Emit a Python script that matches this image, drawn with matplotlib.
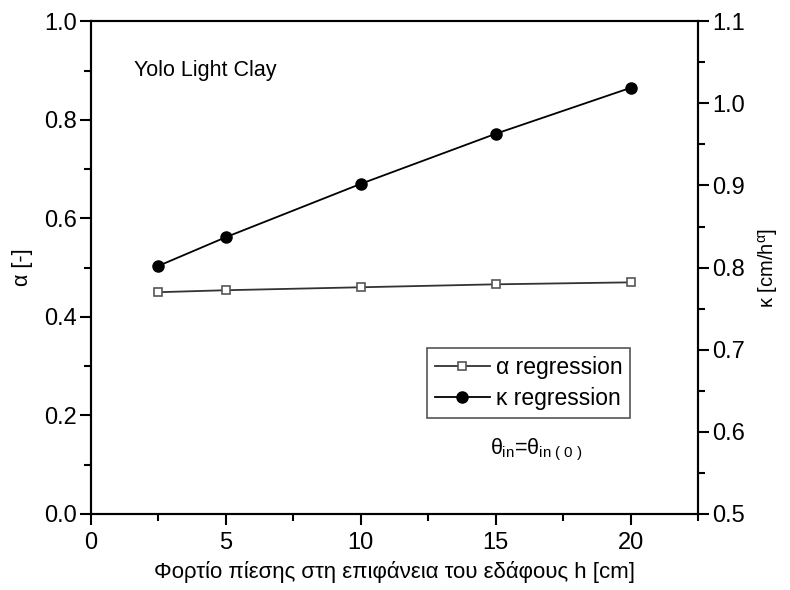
import matplotlib
matplotlib.use('Agg')
import matplotlib.pyplot as plt
from matplotlib.ticker import MultipleLocator

plt.rcParams['font.family'] = ['Liberation Sans', 'DejaVu Sans']
plt.rcParams['mathtext.fontset'] = 'custom'
plt.rcParams['mathtext.rm'] = 'Liberation Sans'
plt.rcParams['mathtext.it'] = 'Liberation Sans'
plt.rcParams['mathtext.bf'] = 'Liberation Sans:bold'

# pressure head at the surface [cm]
h = [2.5, 5, 10, 15, 20]
# regression parameters
alpha = [0.450, 0.454, 0.460, 0.466, 0.470]
kappa = [0.802, 0.837, 0.902, 0.963, 1.019]

fig = plt.figure(figsize=(7.9, 5.9), dpi=100)
ax = fig.add_axes([0.115, 0.129, 0.769, 0.835])
ax2 = ax.twinx()

la, = ax.plot(h, alpha, color='#333333', lw=1.3, marker='s', ms=6,
              mfc='white', mec='#555555', mew=1.2, label='α regression')
lk, = ax2.plot(h, kappa, color='black', lw=1.3, marker='o', ms=8,
               mfc='black', mec='black', label='κ regression')

ax.set_xlim(0, 22.5)
ax.set_ylim(0, 1.0)
ax2.set_ylim(0.5, 1.1)

ax.xaxis.set_major_locator(MultipleLocator(5))
ax.xaxis.set_minor_locator(MultipleLocator(2.5))
ax.yaxis.set_major_locator(MultipleLocator(0.2))
ax.yaxis.set_minor_locator(MultipleLocator(0.1))
ax2.yaxis.set_major_locator(MultipleLocator(0.1))
ax2.yaxis.set_minor_locator(MultipleLocator(0.05))

for a in (ax, ax2):
    for s in a.spines.values():
        s.set_linewidth(1.5)
    a.tick_params(which='major', direction='out', length=8, width=1.5,
                  labelsize=17, pad=2)
    a.tick_params(which='minor', direction='out', length=5, width=1.5)
ax.tick_params(axis='x', which='both', top=False)
ax.tick_params(axis='x', which='major', pad=5)

ax.set_xlabel('Φορτίο πίεσης στη επιφάνεια του εδάφους h [cm]', fontsize=16,
              labelpad=5)
ax.set_ylabel('α [-]', fontsize=15.5, labelpad=8)
ax2.set_ylabel(r'κ [cm/h$^{\mathrm{α}}$]', fontsize=14.5, labelpad=8)

ax.text(1.6, 0.9, 'Yolo Light Clay', fontsize=15.5, va='center')
ax.text(16.5, 0.13, r'$\theta_{\mathrm{in}}$=$\theta_{\mathrm{in\ (\ 0\ )}}$',
        fontsize=15.5, ha='center', va='center')

leg = ax2.legend(handles=[la, lk], loc='upper left',
                 bbox_to_anchor=(0.553, 0.337), fontsize=16.5, handlelength=2.4,
                 handletextpad=0.25, borderpad=0.35, labelspacing=0.35,
                 borderaxespad=0, fancybox=False, framealpha=1,
                 edgecolor='#555555')
leg.get_frame().set_linewidth(1.2)

plt.savefig('out.png', dpi=100)
